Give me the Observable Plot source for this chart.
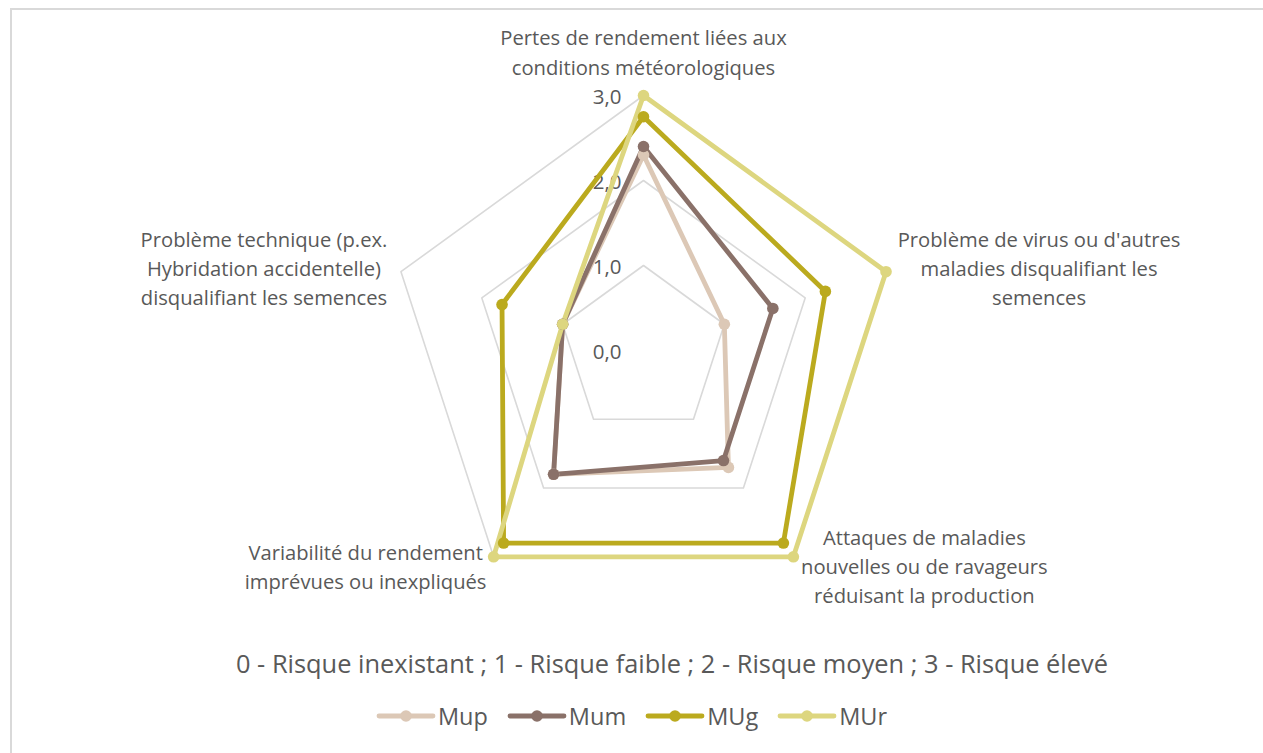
<!DOCTYPE html>
<html>
<head>
<meta charset="utf-8">
<script src="https://cdn.jsdelivr.net/npm/d3@7"></script>
<script src="https://cdn.jsdelivr.net/npm/@observablehq/plot@0.6"></script>
<style>
  body { margin: 0; background: #fff; font-family: "Open Sans", sans-serif; }
  #wrap { position: relative; width: 1263px; height: 753px; overflow: hidden; background: #fff; }
  #frame { position: absolute; left: 10px; top: 8px; width: 1400px; height: 900px;
           border-top: 2px solid #d9d9d9; border-left: 2px solid #d9d9d9; }
  #chart { position: absolute; left: 0; top: 0; }
  #caption { position: absolute; top: 646px; left: 236px; white-space: nowrap;
             font-size: 25.4px; line-height: 34px; color: #595959; }
  #legend { position: absolute; top: 700px; left: 0; width: 1263px; display: flex;
            justify-content: center; align-items: center; gap: 19px; font-size: 23.5px; line-height: 32px; color: #595959; }
  .item { display: flex; align-items: center; }
  .item svg { margin-right: 2px; }
</style>
</head>
<body>
<div id="wrap">
  <div id="frame"></div>
  <div id="chart"></div>
  <div id="caption"></div>
  <div id="legend"></div>
</div>
<script>
// ---- data ----
const axes = [
  "Pertes de rendement liées aux\nconditions météorologiques",
  "Problème de virus ou d'autres\nmaladies disqualifiant les\nsemences",
  "Attaques de maladies\nnouvelles ou de ravageurs\nréduisant la production",
  "Variabilité du rendement\nimprévues ou inexpliqués",
  "Problème technique (p.ex.\nHybridation accidentelle)\ndisqualifiant les semences"
];
const series = ["Mup", "Mum", "MUg", "MUr"];
const Mup = [2.3, 1.0, 1.7, 1.8, 1.0];
const Mum = [2.4, 1.6, 1.6, 1.8, 1.0];
const MUg = [2.75, 2.25, 2.8, 2.8, 1.75];
const MUr = [3.0, 3.0, 3.0, 3.0, 1.0];
const tickValues = [0, 1, 2, 3];
const tickLabels = ["0,0", "1,0", "2,0", "3,0"];
const caption = "0 - Risque inexistant ; 1 - Risque faible ; 2 - Risque moyen ; 3 - Risque élevé";

// ---- styles / layout ----
const colors = ["#DCC8B6", "#8A7169", "#BBAA1E", "#DDD67F"];
const W = 1263, H = 630, cx = 643, cy = 350, unit = 85;
const labelDx = [0, 153, 131, -128, -137];
const labelDy = [-21, -5, 8, 8, -5];
const textColor = "#595959";
const labelFont = 20.2;

// ---- geometry helpers ----
const n = axes.length;
const angle = i => Math.PI / 2 - i * 2 * Math.PI / n;
const px = (r, i) => r * Math.cos(angle(i));
const py = (r, i) => r * Math.sin(angle(i));

const valuesBySeries = [Mup, Mum, MUg, MUr];
const rows = [];
series.forEach((s, k) => {
  const vals = valuesBySeries[k];
  for (let i = 0; i <= n; i++) {
    const j = i % n;
    rows.push({ series: s, axis: j, value: vals[j], x: px(vals[j], j), y: py(vals[j], j), close: i === n });
  }
});

const rings = [];
tickValues.filter(t => t > 0).forEach(t => {
  for (let i = 0; i <= n; i++) {
    const j = i % n;
    rings.push({ level: t, x: px(t, j), y: py(t, j) });
  }
});

const ticksData = tickValues.map((t, k) => ({ label: tickLabels[k], x: 0, y: t }));

const maxR = d3.max(tickValues);
const labelMarks = axes.map((a, i) => Plot.text([a], {
  x: () => px(maxR, i),
  y: () => py(maxR, i),
  text: d => d,
  dx: labelDx[i],
  dy: labelDy[i],
  textAnchor: "middle",
  lineAnchor: i === 0 ? "bottom" : "middle",
  lineHeight: 1.45,
  fontSize: labelFont,
  fill: textColor
}));

const plot = Plot.plot({
  width: W,
  height: H,
  margin: 0,
  style: { fontFamily: "'Open Sans', sans-serif", background: "transparent", overflow: "visible" },
  x: { domain: [-cx / unit, (W - cx) / unit], axis: null },
  y: { domain: [-(H - cy) / unit, cy / unit], axis: null },
  color: { domain: series, range: colors },
  marks: [
    Plot.line(rings, { x: "x", y: "y", z: "level", stroke: "#d9d9d9", strokeWidth: 1.6 }),
    Plot.text(ticksData, { x: "x", y: "y", text: "label", dx: -22, dy: 2, textAnchor: "end", fontSize: 20.5, fill: textColor }),
    ...labelMarks,
    Plot.line(rows, { x: "x", y: "y", z: "series", stroke: "series", strokeWidth: 4.8, strokeLinejoin: "round", strokeLinecap: "round" }),
    Plot.dot(rows.filter(d => !d.close), { x: "x", y: "y", fill: "series", r: 5.8, stroke: "none" })
  ]
});
document.getElementById("chart").appendChild(plot);
document.getElementById("caption").textContent = caption;

// ---- legend ----
const legend = document.getElementById("legend");
series.forEach((s, k) => {
  const item = document.createElement("div");
  item.className = "item";
  item.innerHTML = `<svg width="60" height="16"><line x1="3" y1="8" x2="57" y2="8" stroke="${colors[k]}" stroke-width="4.8" stroke-linecap="round"/><circle cx="30" cy="8" r="5.8" fill="${colors[k]}"/></svg><span>${s}</span>`;
  legend.appendChild(item);
});
</script>
</body>
</html>
